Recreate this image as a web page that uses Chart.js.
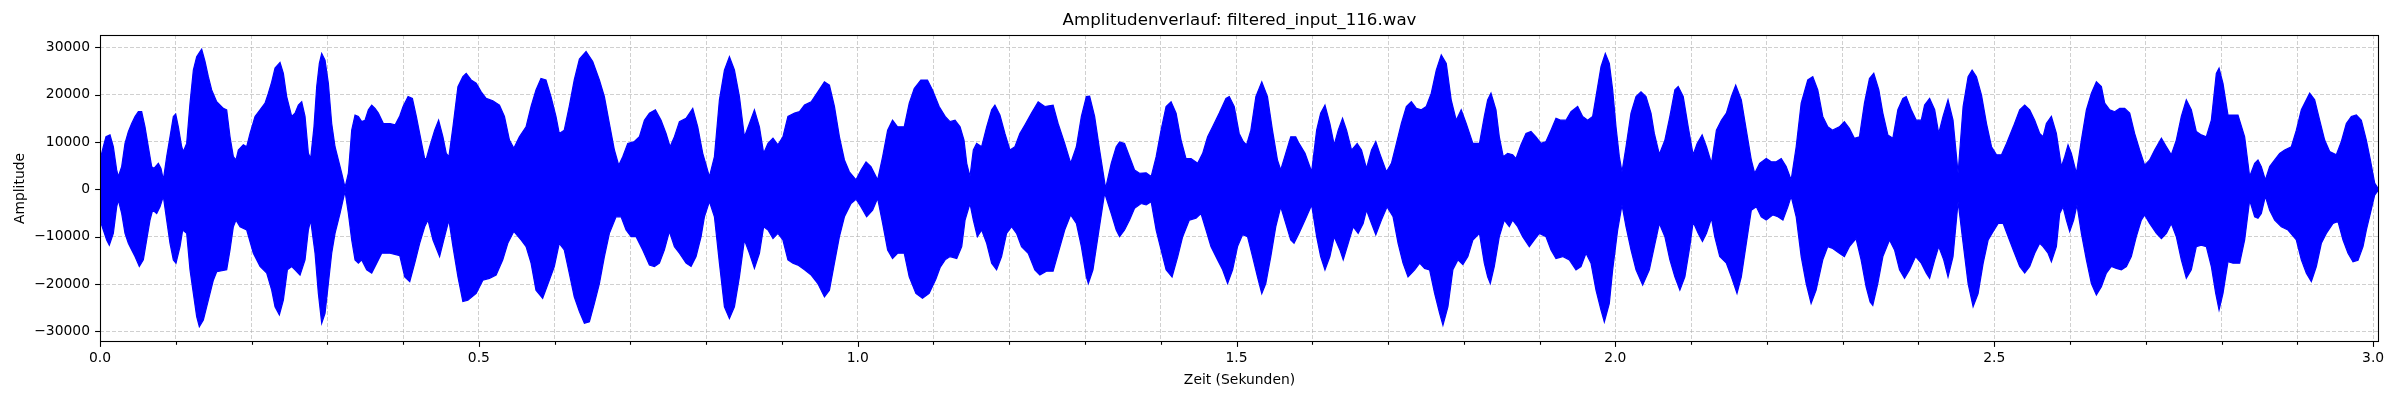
<!DOCTYPE html>
<html>
<head>
<meta charset="utf-8">
<script src="https://cdn.jsdelivr.net/npm/chart.js@4.4.1/dist/chart.umd.min.js"></script>
<style>
html,body{margin:0;padding:0;background:#ffffff;}
canvas{display:block;}
</style>
</head>
<body>
<canvas id="c" width="2400" height="400" style="width:2400px;height:400px"></canvas>
<script>
// ---- Data (upper and lower amplitude envelope) ----
const upperT = [0.000,0.0044,0.0079,0.0132,0.0176,0.0220,0.0242,0.0286,0.0330,0.0374,0.0418,0.0462,0.0506,0.0550,0.0594,0.0638,0.0682,0.0713,0.0770,0.0805,0.0836,0.0880,0.0924,0.0968,0.0999,0.1034,0.1078,0.1100,0.1144,0.1188,0.1232,0.1276,0.1320,0.1342,0.1386,0.1430,0.1474,0.1540,0.1628,0.1672,0.1716,0.1760,0.1795,0.1826,0.1892,0.1936,0.1980,0.2046,0.2112,0.2178,0.2222,0.2266,0.2310,0.2376,0.2420,0.2464,0.2530,0.2574,0.2618,0.2662,0.2706,0.2750,0.2780,0.2824,0.2860,0.2895,0.2926,0.2970,0.3014,0.3058,0.3102,0.3146,0.3190,0.3234,0.3278,0.3322,0.3366,0.3410,0.3454,0.3498,0.3542,0.3586,0.3630,0.3674,0.3740,0.3828,0.3894,0.3956,0.4000,0.4066,0.4123,0.4175,0.4228,0.4285,0.4307,0.4351,0.4417,0.4469,0.4526,0.4570,0.4605,0.4658,0.4724,0.4789,0.4833,0.4899,0.4965,0.5031,0.5096,0.5184,0.5272,0.5338,0.5404,0.5461,0.5535,0.5623,0.5689,0.5754,0.5820,0.5886,0.5952,0.6018,0.6061,0.6127,0.6193,0.6259,0.6327,0.6415,0.6503,0.6591,0.6657,0.6723,0.6789,0.6846,0.6899,0.6965,0.7053,0.7119,0.7185,0.7251,0.7330,0.7405,0.7471,0.7524,0.7581,0.7647,0.7735,0.7823,0.7889,0.7955,0.8043,0.8109,0.8175,0.8241,0.8307,0.8373,0.8439,0.8505,0.8571,0.8637,0.8703,0.8759,0.8816,0.8882,0.8947,0.9013,0.9079,0.9167,0.9232,0.9298,0.9386,0.9474,0.9561,0.9627,0.9693,0.9759,0.9825,0.9890,0.9978,1.0044,1.0110,1.0175,1.0263,1.0329,1.0395,1.0460,1.0526,1.0614,1.0680,1.0746,1.0833,1.0921,1.0987,1.1075,1.1154,1.1219,1.1285,1.1351,1.1403,1.1439,1.1482,1.1526,1.1570,1.1636,1.1702,1.1768,1.1811,1.1877,1.1943,1.2009,1.2075,1.2140,1.2206,1.2294,1.2382,1.2469,1.2579,1.2645,1.2732,1.2811,1.2886,1.2952,1.3018,1.3061,1.3127,1.3193,1.3272,1.3346,1.3412,1.3456,1.3522,1.3588,1.3654,1.3719,1.3807,1.3873,1.3939,1.4004,1.4070,1.4136,1.4202,1.4268,1.4333,1.4399,1.4487,1.4553,1.4618,1.4684,1.4772,1.4860,1.4904,1.4969,1.5035,1.5088,1.5132,1.5189,1.5255,1.5333,1.5408,1.5474,1.5540,1.5583,1.5649,1.5715,1.5781,1.5825,1.5904,1.5991,1.6057,1.6110,1.6167,1.6232,1.6289,1.6342,1.6399,1.6452,1.6518,1.6592,1.6649,1.6715,1.6781,1.6838,1.6890,1.6978,1.7044,1.7110,1.7175,1.7241,1.7307,1.7373,1.7439,1.7504,1.7570,1.7636,1.7702,1.7768,1.7833,1.7899,1.7965,1.8031,1.8119,1.8206,1.8270,1.8314,1.8358,1.8424,1.8468,1.8520,1.8578,1.8644,1.8688,1.8754,1.8820,1.8886,1.8952,1.9018,1.9084,1.9150,1.9216,1.9282,1.9348,1.9414,1.9502,1.9568,1.9634,1.9700,1.9744,1.9810,1.9867,1.9920,1.9964,2.0008,2.0052,2.0087,2.0140,2.0206,2.0272,2.0338,2.0404,2.0470,2.0514,2.0580,2.0653,2.0719,2.0785,2.0829,2.0895,2.0961,2.1026,2.1079,2.1145,2.1202,2.1268,2.1333,2.1399,2.1465,2.1531,2.1588,2.1662,2.1728,2.1794,2.1838,2.1904,2.1991,2.2057,2.2123,2.2189,2.2254,2.2320,2.2386,2.2452,2.2539,2.2605,2.2671,2.2737,2.2803,2.2868,2.2956,2.3022,2.3088,2.3154,2.3221,2.3287,2.3353,2.3410,2.3477,2.3530,2.3596,2.3662,2.3728,2.3794,2.3838,2.3905,2.3971,2.4037,2.4081,2.4147,2.4214,2.4267,2.4324,2.4390,2.4456,2.4523,2.4589,2.4655,2.4708,2.4765,2.4832,2.4898,2.4964,2.5030,2.5096,2.5162,2.5251,2.5336,2.5402,2.5468,2.5534,2.5600,2.5644,2.5688,2.5754,2.5820,2.5886,2.5930,2.5974,2.6018,2.6084,2.6150,2.6216,2.6282,2.6348,2.6414,2.6458,2.6524,2.6590,2.6656,2.6722,2.6788,2.6853,2.6919,2.6985,2.7051,2.7117,2.7206,2.7272,2.7337,2.7403,2.7469,2.7535,2.7601,2.7667,2.7733,2.7799,2.7865,2.7931,2.7967,2.8019,2.8085,2.8151,2.8217,2.8305,2.8371,2.8437,2.8481,2.8525,2.8578,2.8635,2.8701,2.8767,2.8833,2.8921,2.8987,2.9053,2.9119,2.9163,2.9229,2.9295,2.9361,2.9427,2.9515,2.9581,2.9647,2.9713,2.9779,2.9845,2.9911,2.9964,3.0021,3.0065];
const upperV = [6200,9000,11100,11500,9000,4100,2700,4800,9700,12200,13900,15400,16400,16400,13200,9000,4800,4400,5500,4400,2000,6900,11100,15400,15900,13200,9000,8000,9700,18200,25200,28000,29100,29600,27000,23800,21000,18500,17100,16800,11100,6900,6200,8300,9400,9000,11800,15400,16800,18200,20300,22700,25600,26800,24500,19600,15400,16100,17800,18500,15400,7600,6500,13200,21700,26600,28700,27300,22400,13900,9000,6200,3400,400,3400,12500,15700,15400,14300,14600,16800,17800,17100,16100,13900,13900,13600,15500,17500,19600,19200,15400,11100,6500,6500,9000,12500,14600,11100,7600,6900,13200,21700,23800,24500,23100,22400,20600,19200,18700,17800,15400,10400,8700,11100,13200,17500,21000,23400,23100,19600,15400,11800,12500,17500,23100,27500,29100,27000,23100,19600,13900,8300,5100,6900,9700,10100,11100,14600,16100,16800,14600,11800,9000,11100,14300,15000,17100,13200,7600,2700,6900,18900,25200,28000,25200,19600,11100,13900,16800,13200,7600,9700,10800,9400,11100,15400,16100,16400,17800,18500,20600,22700,22000,17500,11100,6200,3700,2000,4100,5800,4800,2000,6900,12500,14600,13200,13200,18200,21300,23100,23100,21000,17500,15400,14300,14600,13200,10400,5500,2700,8300,9700,9000,13200,16800,17800,15700,11800,8300,9000,11800,13600,16100,18500,17500,17800,13900,9700,5500,9000,15400,19600,19700,15400,8300,200,5500,9000,10000,9700,6900,4100,3400,3500,2700,6900,12500,17500,18500,16100,10400,6500,6500,5500,7600,11100,13200,16100,19200,19600,17500,11800,10100,9400,12500,19600,22700,19600,12500,6200,4100,7600,11100,11100,9700,7600,3700,12500,16100,17800,13900,9400,12500,15000,12500,8300,9700,8300,4400,8300,10100,7600,3700,5500,9700,13900,17500,18500,17100,16800,17500,20300,25200,28400,26600,18900,14600,16800,13900,9700,9700,15400,18900,20300,16800,11100,6900,7600,7300,6500,9400,11800,12200,11100,9700,10100,12500,15000,14600,14600,16400,17500,15400,14600,15400,19600,25900,28700,26600,21000,13200,6900,3700,9000,16100,19600,20600,19600,16100,11800,7400,10400,15400,21000,21700,19600,13200,7300,9700,11500,9000,5500,12500,14600,16100,19600,22000,18900,12500,6200,3400,5500,6500,5800,5800,6500,4800,2000,9000,18200,23100,23800,21000,15400,13200,12500,13200,14300,12900,10800,11100,18200,23400,24500,21000,16100,11500,10800,16800,19200,19600,16800,14600,14600,17800,19200,16800,11800,15400,18900,14600,3400,17500,23800,25200,23800,19900,13900,9000,7300,7300,9700,13200,16800,17800,16800,14600,11800,11100,13900,15400,11800,4800,6900,9400,7600,3400,10400,16800,20300,22700,21700,18200,16800,16400,17100,17100,16100,11800,8300,5100,6200,8300,10800,9000,7300,10400,15400,18900,16800,12200,11500,11100,14600,24500,25600,22400,15700,15700,15700,11100,2700,5500,6200,4800,2000,4800,6200,7600,8300,9000,12500,16800,18900,20300,18900,14600,10400,8000,7300,10100,13900,15400,15700,14600,10400,6200,1300,200];

const lowerT = [0.000,0.0044,0.0088,0.0123,0.0176,0.0220,0.0242,0.0286,0.0330,0.0374,0.0418,0.0462,0.0519,0.0572,0.0616,0.0660,0.0695,0.0748,0.0792,0.0836,0.0880,0.0924,0.0968,0.1003,0.1056,0.1091,0.1144,0.1188,0.1232,0.1276,0.1311,0.1364,0.1430,0.1496,0.1540,0.1672,0.1716,0.1760,0.1795,0.1848,0.1936,0.2024,0.2112,0.2200,0.2266,0.2310,0.2367,0.2420,0.2473,0.2530,0.2574,0.2640,0.2706,0.2750,0.2780,0.2838,0.2882,0.2926,0.2970,0.3014,0.3058,0.3102,0.3168,0.3234,0.3278,0.3322,0.3366,0.3410,0.3454,0.3520,0.3586,0.3652,0.3718,0.3828,0.3956,0.4022,0.4088,0.4154,0.4219,0.4285,0.4329,0.4395,0.4482,0.4548,0.4605,0.4658,0.4724,0.4789,0.4855,0.4965,0.5053,0.5140,0.5228,0.5316,0.5382,0.5461,0.5557,0.5623,0.5689,0.5754,0.5842,0.5930,0.5996,0.6061,0.6127,0.6193,0.6259,0.6327,0.6393,0.6459,0.6525,0.6591,0.6657,0.6723,0.6811,0.6877,0.6943,0.7009,0.7075,0.7163,0.7251,0.7317,0.7383,0.7449,0.7515,0.7581,0.7647,0.7735,0.7801,0.7867,0.7933,0.7977,0.8043,0.8109,0.8175,0.8241,0.8307,0.8373,0.8439,0.8505,0.8571,0.8637,0.8703,0.8759,0.8816,0.8882,0.8947,0.9013,0.9079,0.9145,0.9211,0.9298,0.9386,0.9474,0.9561,0.9627,0.9693,0.9759,0.9825,0.9912,0.9978,1.0044,1.0118,1.0197,1.0263,1.0329,1.0395,1.0460,1.0526,1.0614,1.0680,1.0768,1.0855,1.0943,1.1031,1.1088,1.1154,1.1219,1.1307,1.1373,1.1417,1.1482,1.1526,1.1579,1.1636,1.1702,1.1768,1.1833,1.1899,1.1965,1.2031,1.2096,1.2162,1.2250,1.2338,1.2404,1.2491,1.2579,1.2645,1.2732,1.2811,1.2886,1.2952,1.3018,1.3044,1.3105,1.3171,1.3259,1.3346,1.3412,1.3456,1.3522,1.3588,1.3654,1.3741,1.3807,1.3873,1.3939,1.4004,1.4070,1.4149,1.4224,1.4289,1.4377,1.4465,1.4531,1.4597,1.4662,1.4750,1.4816,1.4882,1.4948,1.5013,1.5079,1.5145,1.5211,1.5276,1.5333,1.5386,1.5452,1.5518,1.5583,1.5649,1.5715,1.5759,1.5825,1.5904,1.5991,1.6057,1.6110,1.6167,1.6232,1.6289,1.6364,1.6408,1.6474,1.6539,1.6605,1.6671,1.6715,1.6781,1.6838,1.6912,1.6987,1.7066,1.7132,1.7197,1.7263,1.7351,1.7417,1.7482,1.7548,1.7614,1.7680,1.7724,1.7790,1.7855,1.7921,1.7987,1.8053,1.8119,1.8206,1.8270,1.8314,1.8349,1.8402,1.8468,1.8534,1.8600,1.8644,1.8710,1.8776,1.8864,1.8930,1.8996,1.9084,1.9150,1.9216,1.9304,1.9392,1.9480,1.9546,1.9612,1.9678,1.9744,1.9810,1.9854,1.9920,1.9964,2.0030,2.0087,2.0140,2.0206,2.0272,2.0360,2.0448,2.0514,2.0580,2.0653,2.0719,2.0785,2.0851,2.0917,2.0982,2.1026,2.1092,2.1149,2.1202,2.1268,2.1311,2.1377,2.1465,2.1531,2.1605,2.1662,2.1728,2.1794,2.1860,2.1925,2.1991,2.2079,2.2145,2.2211,2.2276,2.2320,2.2386,2.2452,2.2518,2.2583,2.2649,2.2737,2.2803,2.2868,2.2956,2.3022,2.3088,2.3176,2.3243,2.3309,2.3362,2.3397,2.3463,2.3530,2.3618,2.3684,2.3750,2.3816,2.3883,2.3962,2.4037,2.4103,2.4147,2.4214,2.4267,2.4333,2.4390,2.4456,2.4523,2.4589,2.4655,2.4721,2.4787,2.4854,2.4920,2.4986,2.5052,2.5118,2.5184,2.5251,2.5336,2.5402,2.5468,2.5534,2.5600,2.5644,2.5710,2.5754,2.5820,2.5864,2.5908,2.5952,2.5996,2.6048,2.6092,2.6150,2.6216,2.6282,2.6348,2.6414,2.6480,2.6546,2.6612,2.6678,2.6744,2.6809,2.6875,2.6941,2.6985,2.7051,2.7140,2.7206,2.7272,2.7337,2.7403,2.7469,2.7535,2.7601,2.7667,2.7733,2.7799,2.7865,2.7923,2.7967,2.8019,2.8085,2.8151,2.8239,2.8305,2.8371,2.8437,2.8481,2.8525,2.8578,2.8635,2.8701,2.8789,2.8877,2.8987,2.9053,2.9119,2.9185,2.9251,2.9317,2.9383,2.9471,2.9537,2.9603,2.9669,2.9735,2.9801,2.9867,2.9911,2.9964,3.0021,3.0065];
const lowerV = [-6500,-8600,-10700,-11800,-9300,-3700,-2300,-5100,-9300,-11400,-12800,-14200,-16300,-14900,-10700,-6500,-4400,-5100,-3700,-1500,-6500,-11400,-14900,-15600,-12100,-8600,-9300,-17000,-22000,-26900,-29000,-27600,-23400,-19200,-17400,-17000,-12800,-7900,-6500,-7900,-8600,-13500,-16300,-17700,-21300,-24800,-26500,-23400,-17000,-16300,-17000,-18100,-14900,-8600,-6500,-13500,-22000,-28300,-26200,-19900,-13500,-9300,-5100,-400,-5100,-10700,-14900,-15600,-14900,-17000,-17700,-15600,-13500,-13500,-14000,-18500,-19500,-15600,-11400,-7900,-6500,-10700,-14200,-10000,-6500,-12100,-18500,-23700,-23400,-22000,-19200,-18800,-18100,-14900,-11400,-8900,-10700,-12100,-15600,-21300,-23000,-19200,-16300,-11400,-12800,-17700,-22700,-25800,-28300,-28000,-24100,-19900,-14200,-9300,-5800,-5800,-8600,-10000,-10000,-12800,-16000,-16300,-15600,-12800,-8900,-12100,-13500,-15600,-16300,-14200,-10000,-5800,-2600,-5800,-15600,-24800,-27300,-24800,-18500,-10700,-13500,-16700,-13500,-7900,-8600,-10400,-9300,-10700,-14900,-15600,-16000,-17000,-18100,-19900,-22700,-21300,-15600,-10000,-5800,-3000,-2100,-3700,-5800,-4400,-1900,-7200,-12800,-14600,-13500,-13500,-18500,-22000,-23000,-22000,-19000,-16500,-14900,-14200,-14600,-12100,-6500,-3000,-6500,-10000,-8600,-11400,-15600,-17000,-14200,-9300,-7900,-9300,-12100,-13500,-17000,-18100,-17300,-17300,-13500,-8600,-5400,-7200,-12100,-18500,-19900,-17000,-10000,-800,-5100,-8600,-10000,-8600,-6500,-4000,-3000,-3300,-2600,-8600,-12800,-17000,-18500,-14200,-10000,-6500,-6100,-5100,-8600,-12100,-14900,-17000,-19900,-17000,-12100,-9600,-10000,-14200,-18500,-22000,-19900,-14200,-7900,-3700,-7200,-10700,-11400,-9300,-6500,-3300,-10000,-14200,-17000,-14200,-10000,-12800,-14900,-11400,-7900,-9300,-7200,-4400,-7200,-9600,-6500,-3700,-5800,-11400,-15600,-18500,-17000,-15600,-16700,-17000,-22000,-26200,-28700,-24800,-17000,-14900,-15900,-14200,-10700,-9300,-15600,-18500,-19900,-16300,-10000,-6500,-7900,-6500,-7900,-10000,-12100,-10700,-9300,-10000,-12800,-14600,-14200,-14900,-17000,-16300,-13500,-15600,-21300,-25500,-28000,-24100,-17000,-8600,-3300,-7900,-12800,-17000,-20200,-17000,-12100,-7200,-10000,-14900,-18500,-21300,-18500,-12100,-6900,-9300,-11000,-9300,-6100,-10000,-14200,-15600,-18500,-22000,-18500,-11400,-4400,-3700,-5800,-6500,-5400,-5800,-6500,-3700,-1500,-5800,-14200,-19900,-24100,-21300,-14900,-12100,-12500,-13500,-14200,-12100,-10400,-14900,-20600,-23800,-24500,-19900,-14200,-10700,-12800,-17000,-18800,-17000,-14200,-15600,-17700,-18800,-14900,-12100,-14900,-18500,-14200,-2600,-11400,-19900,-24800,-22000,-15600,-10700,-8900,-7200,-7200,-10000,-12800,-16300,-17700,-16300,-13500,-11400,-12100,-13500,-15300,-12100,-5100,-3700,-6500,-8900,-6500,-3300,-9300,-14900,-19900,-22300,-20600,-17700,-16300,-16700,-17000,-16300,-14200,-10000,-6500,-5400,-7200,-9300,-10400,-9300,-7200,-10000,-14900,-18800,-17000,-12100,-11800,-12100,-16300,-22000,-25500,-22000,-15300,-15600,-15600,-10700,-2300,-5800,-6100,-5100,-1500,-4400,-6500,-7900,-8600,-10700,-14900,-17700,-19500,-16300,-11400,-9300,-7200,-6800,-10700,-13500,-15300,-15000,-12100,-8600,-5100,-1200,-300];

// ---- Axes definition ----
const xMin = 0, xMax = 3.0078, xMinorStep = 0.1;
const xMajorTicks = [0, 0.5, 1.0, 1.5, 2.0, 2.5, 3.0];
const xTickLabels = ['0.0','0.5','1.0','1.5','2.0','2.5','3.0'];
const yMin = -32250, yMax = 32600;
const yTickValues = [-30000,-20000,-10000,0,10000,20000,30000];
const yTickLabels = ['\u221230000','\u221220000','\u221210000','0','10000','20000','30000'];

const titleText = 'Amplitudenverlauf: filtered_input_116.wav';
const xTitle = 'Zeit (Sekunden)';
const yTitle = 'Amplitude';

function majorIndex(v) {
  for (let i = 0; i < xMajorTicks.length; i++) if (Math.abs(v - xMajorTicks[i]) < 1e-6) return i;
  return -1;
}

const FONT = "'DejaVu Sans', 'Liberation Sans', sans-serif";
Chart.defaults.font.family = FONT;
Chart.defaults.font.size = 13.89;
Chart.defaults.color = '#000000';

const framePlugin = {
  id: 'frameTicks',
  afterDraw(chart) {
    const {ctx, chartArea: a} = chart;
    const xs = chart.scales.x, ys = chart.scales.y;
    ctx.save();
    ctx.strokeStyle = '#000000';
    ctx.lineWidth = 1.1;
    xs.ticks.forEach(t => {
      const px = Math.round(xs.getPixelForValue(t.value)) + 0.5;
      const len = majorIndex(t.value) >= 0 ? 4.9 : 2.8;
      ctx.beginPath(); ctx.moveTo(px, a.bottom); ctx.lineTo(px, a.bottom + len); ctx.stroke();
    });
    ys.ticks.forEach(t => {
      const py = Math.round(ys.getPixelForValue(t.value)) + 0.5;
      ctx.beginPath(); ctx.moveTo(a.left, py); ctx.lineTo(a.left - 4.9, py); ctx.stroke();
    });
    ctx.strokeRect(Math.round(a.left) + 0.5, Math.round(a.top) + 0.5,
                   Math.round(a.right) - Math.round(a.left) - 1, Math.round(a.bottom) - Math.round(a.top) - 1);
    ctx.restore();
  }
};

const upperPts = upperT.map((t, i) => ({x: t, y: upperV[i]}));
const lowerPts = lowerT.map((t, i) => ({x: t, y: lowerV[i]}));
// each half is filled slightly past the zero line so the two halves overlap without a seam
const seamOverlap = 400;

new Chart(document.getElementById('c'), {
  type: 'line',
  data: {
    datasets: [
      {data: upperPts, borderColor: '#0000ff', backgroundColor: '#0000ff', borderWidth: 1.2,
       pointRadius: 0, fill: {value: -seamOverlap}, tension: 0},
      {data: lowerPts, borderColor: '#0000ff', backgroundColor: '#0000ff', borderWidth: 1.2,
       pointRadius: 0, fill: {value: seamOverlap}, tension: 0}
    ]
  },
  options: {
    responsive: false,
    devicePixelRatio: 1,
    animation: false,
    events: [],
    layout: {padding: {left: 0, right: 21, top: 0, bottom: 0}},
    plugins: {
      legend: {display: false},
      tooltip: {enabled: false},
      title: {
        display: true, text: titleText, fullSize: false, color: '#000000',
        font: {family: FONT, size: 16.67, weight: 'normal', lineHeight: 1.2},
        padding: {top: 10.9, bottom: 4.1}
      }
    },
    scales: {
      x: {
        type: 'linear', min: xMin, max: xMax,
        afterFit: s => { s.height = 58; },
        ticks: {
          stepSize: xMinorStep, includeBounds: false, autoSkip: false, maxRotation: 0,
          padding: 8, color: '#000000', font: {size: 13.89},
          callback: v => { const i = majorIndex(v); return i >= 0 ? xTickLabels[i] : ''; }
        },
        grid: {color: 'rgba(176,176,176,0.6)', lineWidth: 1, drawTicks: true, tickLength: 0},
        border: {display: false, dash: [4, 2]},
        title: {display: true, text: xTitle, color: '#000000', font: {size: 13.89, lineHeight: 1.2},
                padding: {top: 0, bottom: 11.5}}
      },
      y: {
        type: 'linear', min: yMin, max: yMax,
        afterFit: s => { s.width = 100; },
        afterBuildTicks: s => { s.ticks = yTickValues.map(v => ({value: v})); },
        ticks: {
          padding: 10, color: '#000000', font: {size: 13.89},
          callback: v => { const i = yTickValues.indexOf(v); return i >= 0 ? yTickLabels[i] : ''; }
        },
        grid: {color: 'rgba(176,176,176,0.6)', lineWidth: 1, drawTicks: true, tickLength: 0},
        border: {display: false, dash: [4, 2]},
        title: {display: true, text: yTitle, color: '#000000', font: {size: 13.89, lineHeight: 1.2},
                padding: {top: 12.4, bottom: 0}}
      }
    }
  },
  plugins: [framePlugin]
});
</script>
</body>
</html>
